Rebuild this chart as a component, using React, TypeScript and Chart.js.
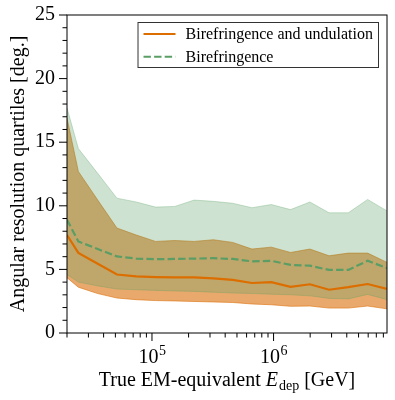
import React, { useEffect, useRef } from "react";
import { Chart, registerables } from "chart.js";

Chart.register(...registerables);

// Energies (GeV), log-spaced bins
const energies = [2.0e4, 2.48e4, 3.58e4, 5.15e4, 7.43e4, 1.07e5, 1.54e5, 2.22e5, 3.2e5, 4.61e5, 6.64e5, 9.57e5, 1.38e6, 1.99e6, 2.86e6, 4.12e6, 5.94e6, 8.57e6];

// Birefringence and undulation quartiles [deg.]
const undLower = [4.35, 3.6, 3.1, 2.75, 2.62, 2.55, 2.52, 2.48, 2.44, 2.4, 2.28, 2.22, 2.1, 2.12, 1.96, 1.96, 2.12, 1.9];
const undMedian = [7.7, 6.3, 5.45, 4.6, 4.45, 4.4, 4.38, 4.38, 4.3, 4.17, 3.93, 4.0, 3.63, 3.83, 3.4, 3.6, 3.85, 3.47];
const undUpper = [16.9, 12.7, 10.45, 8.25, 7.7, 7.2, 7.27, 7.2, 7.33, 7.12, 6.6, 6.75, 6.33, 6.6, 6.07, 6.28, 6.28, 5.55];

// Birefringence quartiles [deg.]
const birLower = [4.6, 4.0, 3.7, 3.45, 3.4, 3.35, 3.3, 3.27, 3.2, 3.14, 3.1, 3.05, 3.0, 2.92, 2.72, 2.68, 3.03, 2.62];
const birMedian = [8.9, 7.2, 6.6, 6.02, 5.85, 5.8, 5.82, 5.85, 5.88, 5.82, 5.63, 5.68, 5.35, 5.29, 4.96, 4.96, 5.68, 5.1];
const birUpper = [17.7, 14.5, 12.55, 10.6, 10.3, 9.9, 9.95, 10.45, 10.35, 10.2, 9.85, 10.1, 9.7, 10.3, 9.45, 9.45, 10.5, 9.6];

const xMajorTicks = [1e5, 1e6];
const labelUnd = "Birefringence and undulation";
const labelBir = "Birefringence";
const xTitleParts = ["True EM-equivalent ", "E", "dep", " [GeV]"];
const yTitle = "Angular resolution quartiles [deg.]";

const FONT = '"Liberation Serif", "DejaVu Serif", serif';
const ORANGE = "#dc6e00";
const ORANGE_FILL = "rgba(220,112,10,0.6)";
const GREEN = "#5a9e66";
const GREEN_FILL = "rgba(90,158,100,0.3)";

export default function App() {
  const ref = useRef<HTMLCanvasElement>(null);

  useEffect(() => {
    document.body.style.margin = "0";
    const pts = (arr: number[]) => energies.map((x, i) => ({ x, y: arr[i] }));

    const mplPlugin = {
      id: "mplAxes",
      afterDraw(chart: any) {
        const { ctx, chartArea: a } = chart;
        const xs = chart.scales.x;
        const ys = chart.scales.y;
        ctx.save();
        ctx.strokeStyle = "#000";
        ctx.fillStyle = "#000";
        ctx.lineWidth = 1;
        // frame
        ctx.strokeRect(a.left, a.top, a.right - a.left, a.bottom - a.top);
        // y ticks
        ctx.beginPath();
        for (let v = ys.min; v <= ys.max + 1e-9; v += 1) {
          const py = ys.getPixelForValue(v);
          const len = Math.abs(v % 5) < 1e-9 ? 8 : 4.5;
          ctx.moveTo(a.left - len, py);
          ctx.lineTo(a.left, py);
        }
        // x ticks
        for (let d = 4; d <= 7; d++) {
          for (let k = 1; k <= 9; k++) {
            const v = k * Math.pow(10, d);
            if (v < xs.min * 0.999 || v > xs.max * 1.001) continue;
            const px = xs.getPixelForValue(v);
            const len = k === 1 ? 8 : 4.5;
            ctx.moveTo(px, a.bottom);
            ctx.lineTo(px, a.bottom + len);
          }
        }
        ctx.stroke();

        // x tick labels 10^n
        ctx.textBaseline = "alphabetic";
        for (const v of xMajorTicks) {
          const px = xs.getPixelForValue(v);
          const exp = String(Math.round(Math.log10(v)));
          ctx.font = `20px ${FONT}`;
          const w1 = ctx.measureText("10").width;
          ctx.font = `14px ${FONT}`;
          const w2 = ctx.measureText(exp).width;
          const x0 = px - (w1 + w2) / 2;
          ctx.font = `20px ${FONT}`;
          ctx.textAlign = "left";
          ctx.fillText("10", x0, a.bottom + 30);
          ctx.font = `14px ${FONT}`;
          ctx.fillText(exp, x0 + w1 + 0.5, a.bottom + 22);
        }

        // x title
        {
          const big = `20px ${FONT}`;
          const ital = `italic 20px ${FONT}`;
          const sub = `14px ${FONT}`;
          ctx.font = big;
          const w0 = ctx.measureText(xTitleParts[0]).width;
          const w3 = ctx.measureText(xTitleParts[3]).width;
          ctx.font = ital;
          const w1 = ctx.measureText(xTitleParts[1]).width;
          ctx.font = sub;
          const w2 = ctx.measureText(xTitleParts[2]).width;
          const total = w0 + w1 + w2 + w3 + 1;
          let x0 = (a.left + a.right) / 2 - total / 2;
          const by = a.bottom + 53;
          ctx.textAlign = "left";
          ctx.font = big;
          ctx.fillText(xTitleParts[0], x0, by);
          x0 += w0;
          ctx.font = ital;
          ctx.fillText(xTitleParts[1], x0, by);
          x0 += w1 + 1;
          ctx.font = sub;
          ctx.fillText(xTitleParts[2], x0, by + 4);
          x0 += w2;
          ctx.font = big;
          ctx.fillText(xTitleParts[3], x0, by);
        }

        // y title
        ctx.save();
        ctx.translate(24, (a.top + a.bottom) / 2);
        ctx.rotate(-Math.PI / 2);
        ctx.font = `20px ${FONT}`;
        ctx.textAlign = "center";
        ctx.textBaseline = "alphabetic";
        ctx.fillText(yTitle, 0, 0);
        ctx.restore();

        // legend
        {
          ctx.font = `16px ${FONT}`;
          const tw = Math.max(ctx.measureText(labelUnd).width, ctx.measureText(labelBir).width);
          const right = a.right - 8;
          const top = a.top + 7;
          const w = 6 + 32 + 10 + tw + 6;
          const h = 46;
          const left = right - w;
          ctx.fillStyle = "rgba(255,255,255,0.85)";
          ctx.fillRect(left, top, w, h);
          ctx.strokeStyle = "#333";
          ctx.lineWidth = 1;
          ctx.strokeRect(left + 0.5, top + 0.5, w - 1, h - 1);
          const rows = [
            { label: labelUnd, color: ORANGE, dash: [] as number[] },
            { label: labelBir, color: GREEN, dash: [7.4, 3.2] },
          ];
          rows.forEach((r, i) => {
            const cy = top + 12 + i * 22.7;
            ctx.beginPath();
            ctx.setLineDash(r.dash);
            ctx.strokeStyle = r.color;
            ctx.lineWidth = 2;
            ctx.moveTo(left + 6, cy);
            ctx.lineTo(left + 38, cy);
            ctx.stroke();
            ctx.setLineDash([]);
            ctx.fillStyle = "#000";
            ctx.textAlign = "left";
            ctx.textBaseline = "middle";
            ctx.fillText(r.label, left + 48, cy + 1);
          });
        }
        ctx.restore();
      },
    };

    const chart = new Chart(ref.current!, {
      type: "line",
      data: {
        datasets: [
          { label: "", data: pts(undLower), borderColor: ORANGE_FILL, borderWidth: 1, pointRadius: 0, fill: false, order: 10 },
          { label: "", data: pts(undUpper), borderColor: ORANGE_FILL, borderWidth: 1, pointRadius: 0, fill: 0, backgroundColor: ORANGE_FILL, order: 9 },
          { label: "", data: pts(birLower), borderColor: GREEN_FILL, borderWidth: 1, pointRadius: 0, fill: false, order: 8 },
          { label: "", data: pts(birUpper), borderColor: GREEN_FILL, borderWidth: 1, pointRadius: 0, fill: 2, backgroundColor: GREEN_FILL, order: 7 },
          { label: labelUnd, data: pts(undMedian), borderColor: ORANGE, borderWidth: 2.2, pointRadius: 0, fill: false, order: 2 },
          { label: labelBir, data: pts(birMedian), borderColor: GREEN, borderWidth: 2.2, borderDash: [7.4, 3.2], pointRadius: 0, fill: false, order: 1 },
        ] as any,
      },
      options: {
        animation: false,
        responsive: false,
        maintainAspectRatio: false,
        layout: { padding: { top: 15, right: 8, left: 0, bottom: 0 } },
        plugins: { legend: { display: false }, tooltip: { enabled: false } },
        elements: { line: { tension: 0 } },
        scales: {
          x: {
            type: "logarithmic",
            min: 2e4,
            max: 8.57e6,
            grid: { display: false, drawTicks: false },
            border: { display: false },
            ticks: { display: false },
            afterFit: (s: any) => { s.height = 67; s.paddingLeft = 0; s.paddingRight = 0; },
          },
          y: {
            type: "linear",
            min: 0,
            max: 25,
            grid: { display: false, drawTicks: false },
            border: { display: false },
            ticks: { stepSize: 5, padding: 12, color: "#000", font: { family: FONT, size: 20 } },
            afterFit: (s: any) => { s.width = 67; s.paddingTop = 0; s.paddingBottom = 0; },
          },
        },
      },
      plugins: [mplPlugin],
    });
    return () => chart.destroy();
  }, []);

  return (
    <div style={{ width: 395, height: 400 }}>
      <canvas ref={ref} width={395} height={400} style={{ display: "block" }} />
    </div>
  );
}
